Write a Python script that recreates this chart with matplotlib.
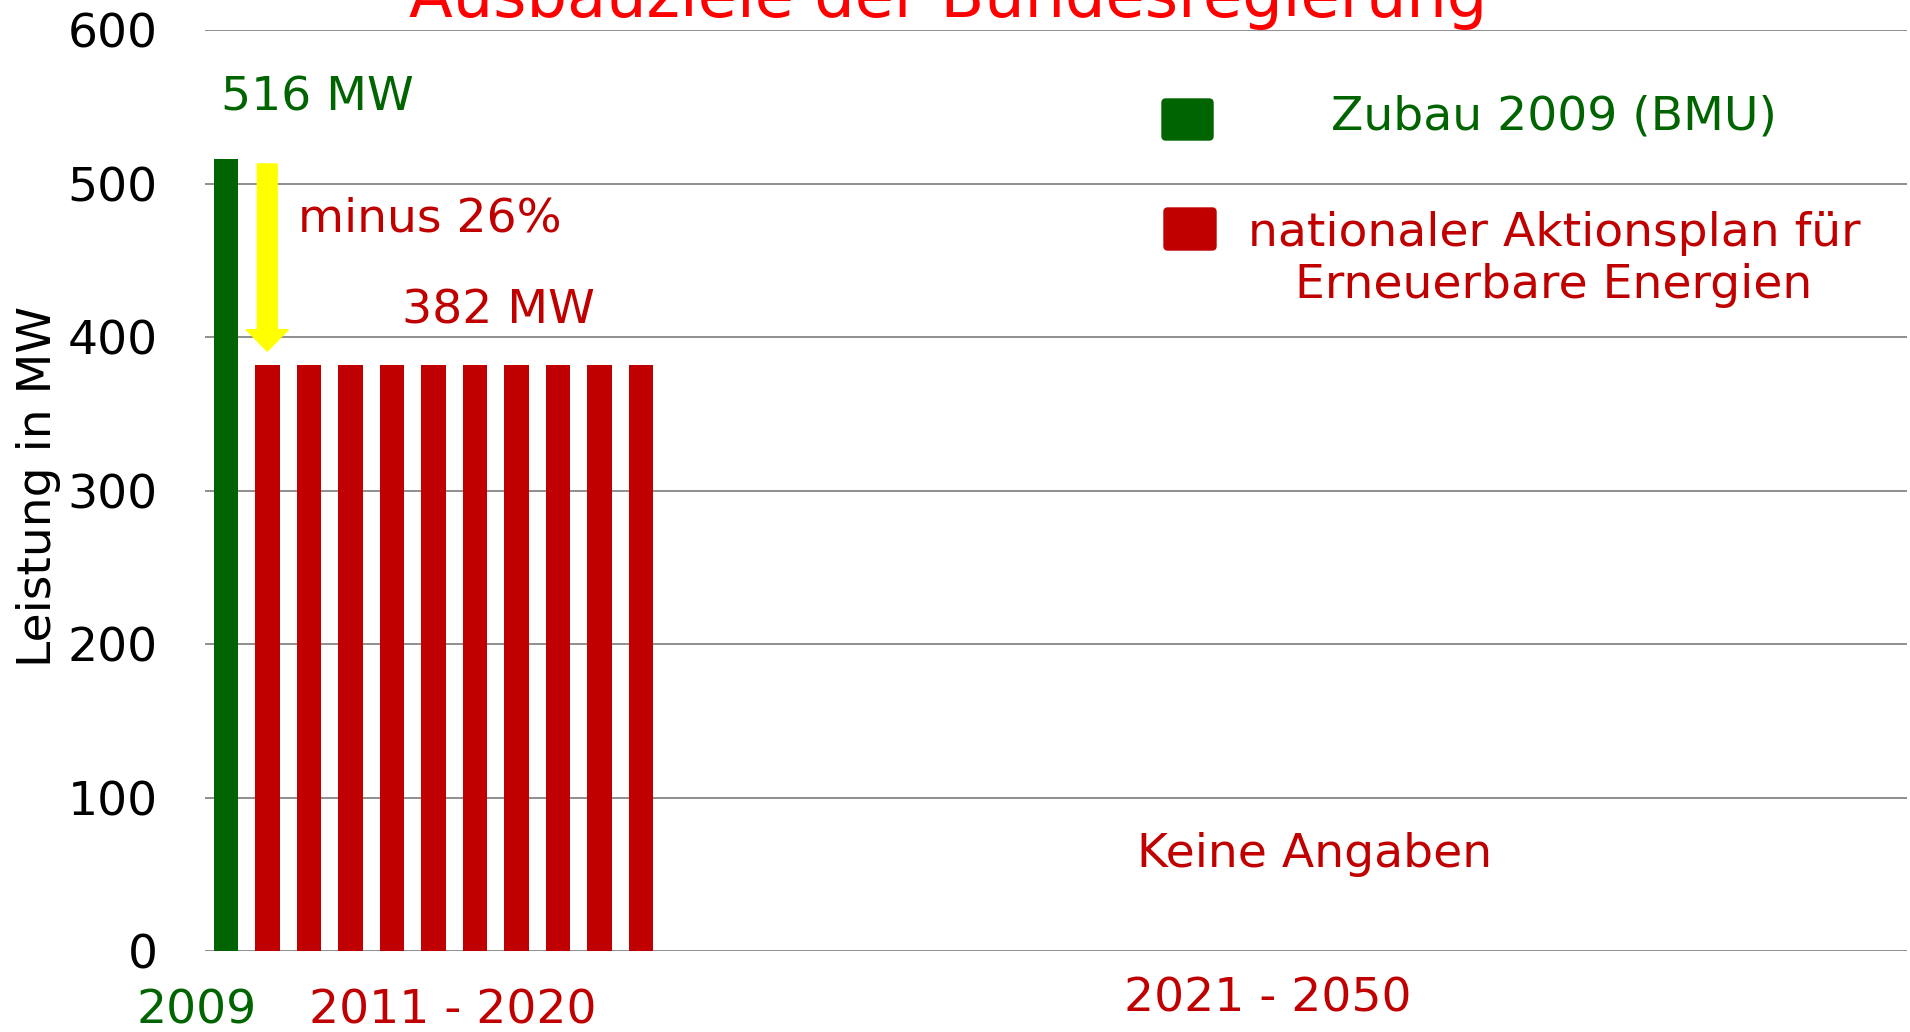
import matplotlib.pyplot as plt
from matplotlib.patches import FancyBboxPatch

# categories: 2009, then one slot per year 2011..2050
categories = ["2009"] + [str(y) for y in range(2011, 2051)]
zubau_2009 = [516]
nap_2011_2020 = [382, 382, 382, 382, 382, 382, 382, 382, 382, 382]
yticks = [0, 100, 200, 300, 400, 500, 600]

GREEN = '#006400'
RED = '#C00000'

fig = plt.figure(figsize=(19.1, 10.32), dpi=100)
ax = fig.add_axes([205 / 1910, 1 - 951 / 1032, 1702 / 1910, 920.5 / 1032])

x = list(range(len(categories)))
ax.bar(x[:1], zubau_2009, width=0.57, color=GREEN, zorder=2)
ax.bar(x[1:1 + len(nap_2011_2020)], nap_2011_2020, width=0.59, color=RED, zorder=2)

ax.set_xlim(-0.5, len(categories) - 0.5)
ax.set_ylim(0, 600)
ax.set_yticks(yticks)
ax.set_xticks([])
ax.grid(axis='y', color='#868686', linewidth=1.3)
ax.set_axisbelow(True)
for s in ax.spines.values():
    s.set_visible(False)
ax.tick_params(axis='y', length=0, pad=34, labelsize=34)

ax.set_ylabel('Leistung in MW', fontsize=34)
ax.yaxis.set_label_coords(-0.0845, 0.505)

# arrow 516 -> 382
ax.arrow(1, 513, 0, -122, width=0.48, head_width=1.02, head_length=14,
         length_includes_head=True, color='#FFFF00', zorder=3)

# annotations
ax.text(-0.12, 556, '516 MW', color=GREEN, fontsize=34, va='center', ha='left')
ax.text(1.73, 477, 'minus 26%', color=RED, fontsize=34, va='center', ha='left')
ax.text(4.25, 417, '382 MW', color=RED, fontsize=34, va='center', ha='left')
ax.text(26.24, 62.7, 'Keine Angaben', color=RED, fontsize=34, va='center', ha='center')

# group labels under the axis
ax.text(-0.7, -39, '2009', color=GREEN, fontsize=34, va='center', ha='center', clip_on=False)
ax.text(5.47, -39, '2011 - 2020', color=RED, fontsize=34, va='center', ha='center', clip_on=False)
ax.text(25.1, -31, '2021 - 2050', color=RED, fontsize=34, va='center', ha='center', clip_on=False)

# title, cut at the top edge as in the original
fig.text(948 / 1910, 1 - 17 / 1032, 'Ausbauziele der Bundesregierung', color='#FF0000',
         fontsize=46, ha='center', va='baseline')

# legend drawn by hand (texts centred in one column, boxes aligned left)
for (x0, y0, x1, y1), c in [((1162, 99, 1213, 140), GREEN), ((1164, 208, 1216, 250), RED)]:
    fig.add_artist(FancyBboxPatch((x0 / 1910, 1 - y1 / 1032), (x1 - x0) / 1910, (y1 - y0) / 1032,
                                  boxstyle='round,pad=0,rounding_size=0.002', mutation_aspect=1.85,
                                  transform=fig.transFigure, color=c))
fig.text(1554 / 1910, 1 - 117 / 1032, 'Zubau 2009 (BMU)', color=GREEN, fontsize=34,
         ha='center', va='center')
fig.text(1554 / 1910, 1 - 260 / 1032, 'nationaler Aktionsplan für\nErneuerbare Energien',
         color=RED, fontsize=34, ha='center', va='center', multialignment='center')

fig.savefig('out.png', dpi=100)
